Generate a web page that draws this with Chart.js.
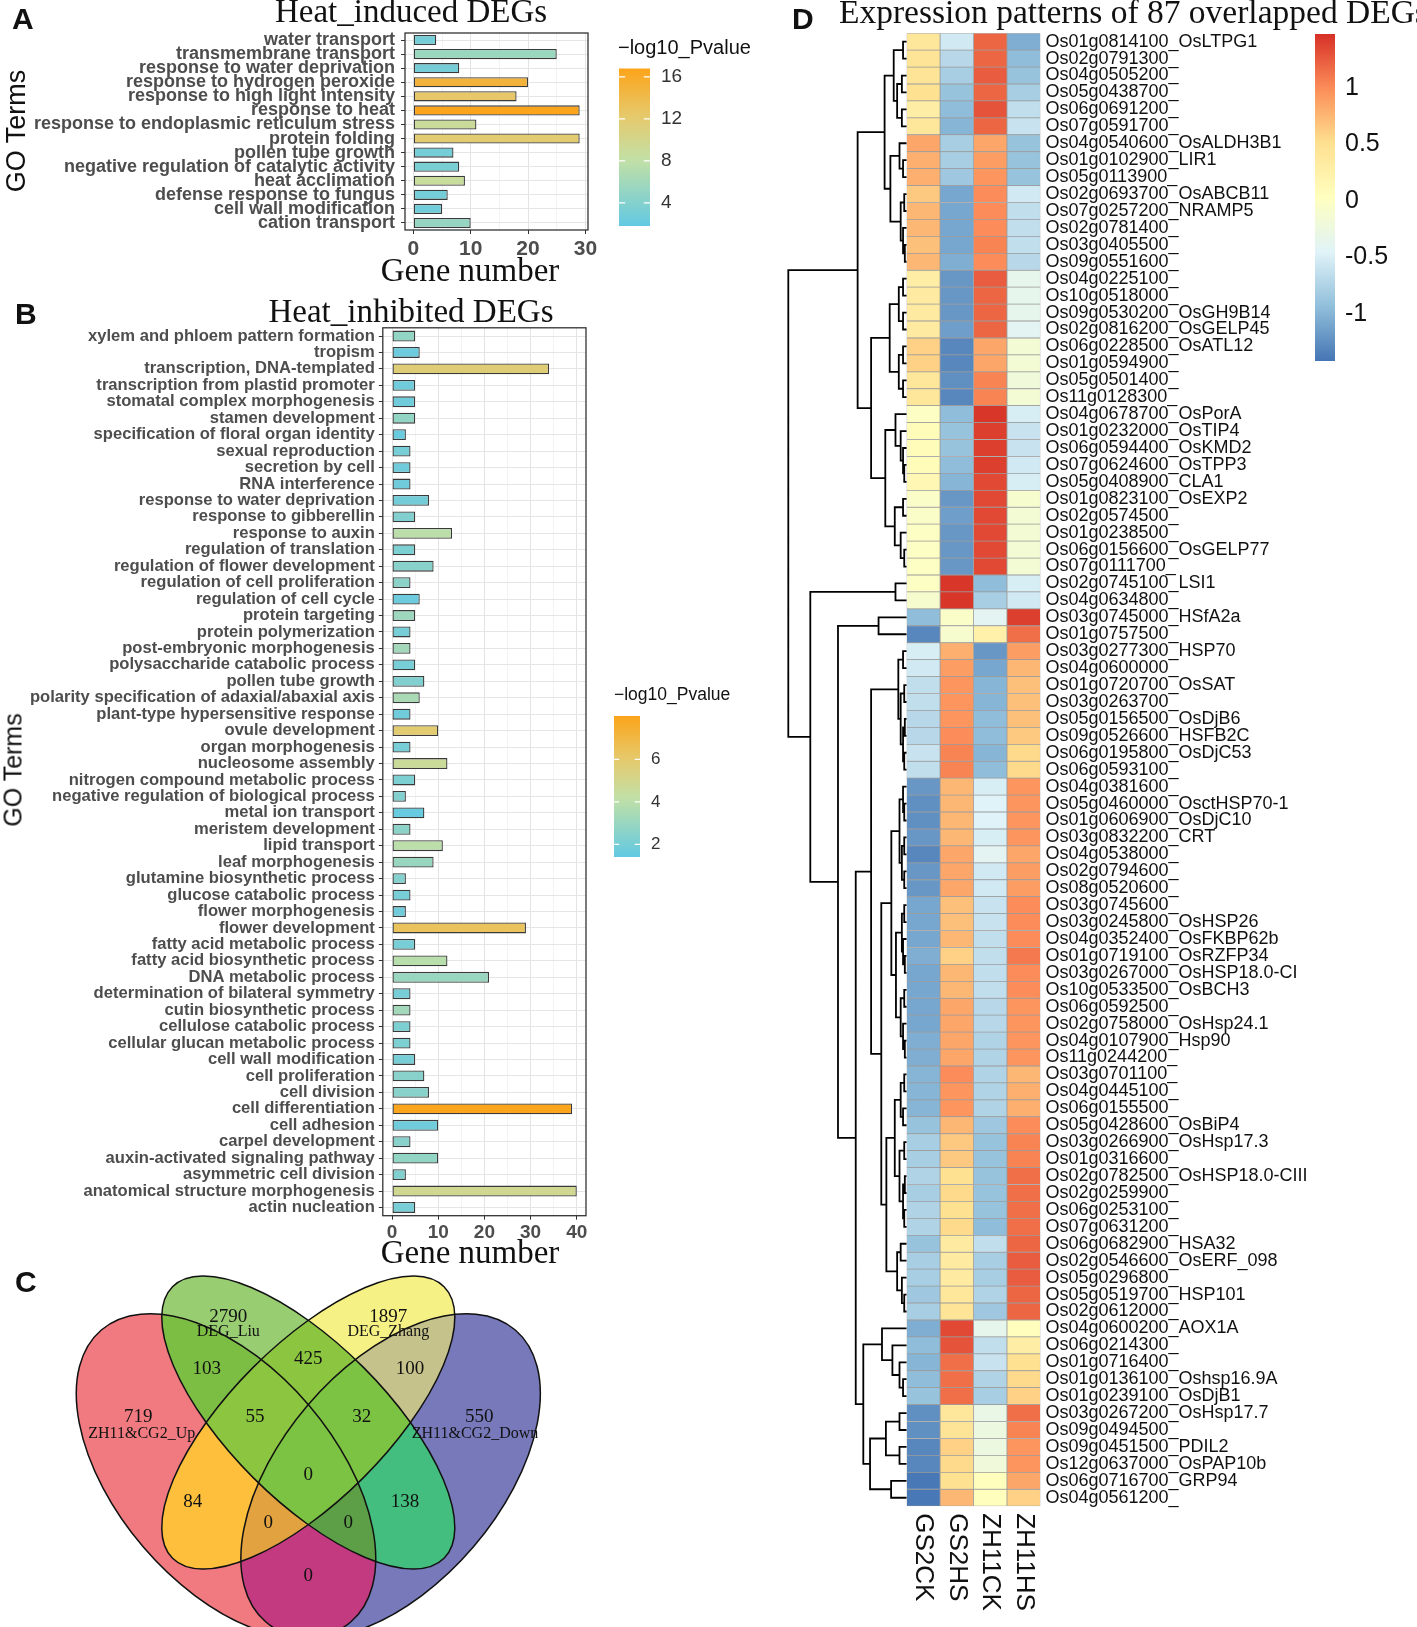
<!DOCTYPE html>
<html>
<head>
<meta charset="utf-8">
<script src="https://cdn.jsdelivr.net/npm/chart.js@4.4.1/dist/chart.umd.min.js"></script>
<style>
  body { margin: 0; background: #fff; }
  #page { position: relative; width: 1417px; height: 1627px; overflow: hidden; font-family: "Liberation Sans", Arial, sans-serif; }
  canvas { position: absolute; }
  .t { position: absolute; white-space: nowrap; line-height: 1; color: #111; }
  .serif { font-family: "Liberation Serif", "Times New Roman", serif; }
  .letter { font-weight: bold; font-size: 30px; }
  .rot { transform: translate(-50%, -50%) rotate(-90deg); }
  .mid { transform: translateX(-50%); }
</style>
</head>
<body>
<div id="page">
  <canvas id="cA" width="760" height="290" style="left:0;top:0"></canvas>
  <canvas id="cB" width="760" height="990" style="left:0;top:290px"></canvas>
  <canvas id="cC" width="560" height="407" style="left:0;top:1220px"></canvas>
  <canvas id="cT" width="130" height="1627" style="left:780px;top:0"></canvas>
  <canvas id="cD" width="517" height="1627" style="left:900px;top:0"></canvas>

  <div class="t letter" style="left:12px;top:4px">A</div>
  <div class="t serif mid" style="left:411px;top:-5px;font-size:33px">Heat_induced DEGs</div>
  <div class="t serif mid" style="left:470px;top:254px;font-size:33px">Gene number</div>
  <div class="t rot" style="left:16px;top:131px;font-size:27px">GO Terms</div>
  <div class="t" style="left:618px;top:37px;font-size:20px">−log10_Pvalue</div>

  <div class="t letter" style="left:15px;top:299px">B</div>
  <div class="t serif mid" style="left:411px;top:295px;font-size:33px">Heat_inhibited DEGs</div>
  <div class="t serif mid" style="left:470px;top:1236px;font-size:33px">Gene number</div>
  <div class="t rot" style="left:13px;top:770px;font-size:25px">GO Terms</div>
  <div class="t" style="left:614px;top:686px;font-size:17.5px">−log10_Pvalue</div>

  <div class="t letter" style="left:15px;top:1267px">C</div>

  <div class="t letter" style="left:792px;top:4px">D</div>
  <div class="t serif" style="left:839px;top:-5px;font-size:33.5px">Expression patterns of 87 overlapped DEGs</div>
</div>

<script>
// ---------- panel A: GO terms of heat induced DEGs ----------
const goInduced = ['water transport', 'transmembrane transport', 'response to water deprivation',
  'response to hydrogen peroxide', 'response to high light intensity', 'response to heat',
  'response to endoplasmic reticulum stress', 'protein folding', 'pollen tube growth',
  'negative regulation of catalytic activity', 'heat acclimation', 'defense response to fungus',
  'cell wall modification', 'cation transport'];
const genesInduced = [4, 25, 8, 20, 18, 29, 11, 29, 7, 8, 9, 6, 5, 10];
const pInduced = [3.0, 5.5, 3.0, 15.0, 12.5, 16.7, 9.0, 12.0, 3.0, 3.3, 8.8, 3.0, 2.8, 5.2];

// ---------- panel B: GO terms of heat inhibited DEGs ----------
const goInhibited = ['xylem and phloem pattern formation', 'tropism', 'transcription, DNA-templated',
  'transcription from plastid promoter', 'stomatal complex morphogenesis', 'stamen development',
  'specification of floral organ identity', 'sexual reproduction', 'secretion by cell', 'RNA interference',
  'response to water deprivation', 'response to gibberellin', 'response to auxin', 'regulation of translation',
  'regulation of flower development', 'regulation of cell proliferation', 'regulation of cell cycle',
  'protein targeting', 'protein polymerization', 'post-embryonic morphogenesis',
  'polysaccharide catabolic process', 'pollen tube growth', 'polarity specification of adaxial/abaxial axis',
  'plant-type hypersensitive response', 'ovule development', 'organ morphogenesis', 'nucleosome assembly',
  'nitrogen compound metabolic process', 'negative regulation of biological process', 'metal ion transport',
  'meristem development', 'lipid transport', 'leaf morphogenesis', 'glutamine biosynthetic process',
  'glucose catabolic process', 'flower morphogenesis', 'flower development', 'fatty acid metabolic process',
  'fatty acid biosynthetic process', 'DNA metabolic process', 'determination of bilateral symmetry',
  'cutin biosynthetic process', 'cellulose catabolic process', 'cellular glucan metabolic process',
  'cell wall modification', 'cell proliferation', 'cell division', 'cell differentiation', 'cell adhesion',
  'carpel development', 'auxin-activated signaling pathway', 'asymmetric cell division',
  'anatomical structure morphogenesis', 'actin nucleation'];
const genesInhibited = [5, 6, 34, 5, 5, 5, 3, 4, 4, 4, 8, 5, 13, 5, 9, 4, 6, 5, 4, 4, 5, 7, 6, 4, 10,
  4, 12, 5, 3, 7, 4, 11, 9, 3, 4, 3, 29, 5, 12, 21, 4, 4, 4, 4, 5, 7, 8, 39, 10, 4, 10, 3, 40, 5];
const pInhibited = [2.8, 1.7, 5.7, 1.8, 1.8, 2.8, 1.6, 2.0, 1.8, 1.8, 1.9, 2.3, 4.0, 2.2, 2.5, 2.6, 1.7, 3.1,
  2.0, 3.3, 2.0, 2.3, 3.5, 1.8, 5.9, 2.0, 4.6, 2.2, 2.3, 1.6, 2.6, 4.0, 3.0, 2.4, 2.0, 1.8, 6.4, 2.0, 3.9,
  3.0, 2.0, 3.3, 2.2, 2.2, 2.0, 2.5, 2.5, 8.0, 1.8, 2.5, 2.8, 2.3, 4.9, 2.0];

// ---------- panel C: Venn diagram ----------
const vennSets = ['ZH11&CG2_Up', 'DEG_Liu', 'DEG_Zhang', 'ZH11&CG2_Down'];
const vennRegions = ['A', 'B', 'C', 'D', 'AB', 'BC', 'CD', 'AC', 'BD', 'AD', 'ABC', 'BCD', 'ACD', 'ABD', 'ABCD'];
const vennCounts = [719, 2790, 1897, 550, 103, 425, 100, 84, 138, 0, 55, 32, 0, 0, 0];

// ---------- panel D: heatmap of 87 overlapped DEGs (row z-scores) ----------
const sampleLabels = ['GS2CK', 'GS2HS', 'ZH11CK', 'ZH11HS'];
const geneLabels = ['Os01g0814100_OsLTPG1', 'Os02g0791300_', 'Os04g0505200_', 'Os05g0438700_', 'Os06g0691200_',
  'Os07g0591700_', 'Os04g0540600_OsALDH3B1', 'Os01g0102900_LIR1', 'Os05g0113900_', 'Os02g0693700_OsABCB11',
  'Os07g0257200_NRAMP5', 'Os02g0781400_', 'Os03g0405500_', 'Os09g0551600_', 'Os04g0225100_', 'Os10g0518000_',
  'Os09g0530200_OsGH9B14', 'Os02g0816200_OsGELP45', 'Os06g0228500_OsATL12', 'Os01g0594900_', 'Os05g0501400_',
  'Os11g0128300_', 'Os04g0678700_OsPorA', 'Os01g0232000_OsTIP4', 'Os06g0594400_OsKMD2', 'Os07g0624600_OsTPP3',
  'Os05g0408900_CLA1', 'Os01g0823100_OsEXP2', 'Os02g0574500_', 'Os01g0238500_', 'Os06g0156600_OsGELP77',
  'Os07g0111700_', 'Os02g0745100_LSI1', 'Os04g0634800_', 'Os03g0745000_HSfA2a', 'Os01g0757500_',
  'Os03g0277300_HSP70', 'Os04g0600000_', 'Os01g0720700_OsSAT', 'Os03g0263700_', 'Os05g0156500_OsDjB6',
  'Os09g0526600_HSFB2C', 'Os06g0195800_OsDjC53', 'Os06g0593100_', 'Os04g0381600_', 'Os05g0460000_OsctHSP70-1',
  'Os01g0606900_OsDjC10', 'Os03g0832200_CRT', 'Os04g0538000_', 'Os02g0794600_', 'Os08g0520600_',
  'Os03g0745600_', 'Os03g0245800_OsHSP26', 'Os04g0352400_OsFKBP62b', 'Os01g0719100_OsRZFP34',
  'Os03g0267000_OsHSP18.0-CI', 'Os10g0533500_OsBCH3', 'Os06g0592500_', 'Os02g0758000_OsHsp24.1',
  'Os04g0107900_Hsp90', 'Os11g0244200_', 'Os03g0701100_', 'Os04g0445100_', 'Os06g0155500_',
  'Os05g0428600_OsBiP4', 'Os03g0266900_OsHsp17.3', 'Os01g0316600_', 'Os02g0782500_OsHSP18.0-CIII',
  'Os02g0259900_', 'Os06g0253100_', 'Os07g0631200_', 'Os06g0682900_HSA32', 'Os02g0546600_OsERF_098',
  'Os05g0296800_', 'Os05g0519700_HSP101', 'Os02g0612000_', 'Os04g0600200_AOX1A', 'Os06g0214300_',
  'Os01g0716400_', 'Os01g0136100_Oshsp16.9A', 'Os01g0239100_OsDjB1', 'Os03g0267200_OsHsp17.7',
  'Os09g0494500_', 'Os09g0451500_PDIL2', 'Os12g0637000_OsPAP10b', 'Os06g0716700_GRP94', 'Os04g0561200_'];
const zGS2CK = [0.4, 0.45, 0.45, 0.5, 0.3, 0.4, 0.85, 0.8, 0.8, 0.65, 0.75, 0.75, 0.7, 0.75, 0.3, 0.35, 0.35, 0.35,
  0.6, 0.6, 0.4, 0.4, 0.0, 0.1, 0.1, 0.1, 0.15, -0.05, -0.05, 0.0, 0.0, 0.0, 0.0, -0.1, -0.95, -1.3, -0.5, -0.55,
  -0.65, -0.65, -0.7, -0.7, -0.6, -0.65, -1.2, -1.25, -1.25, -1.2, -1.3, -1.2, -1.2, -1.1, -1.1, -1.1, -1.05, -1.1,
  -1.1, -1.1, -1.1, -1.05, -1.05, -1.0, -1.0, -1.0, -0.9, -0.8, -0.8, -0.75, -0.8, -0.75, -0.75, -0.9, -0.8, -0.8,
  -0.85, -0.8, -1.05, -0.95, -1.0, -0.95, -0.9, -1.25, -1.25, -1.3, -1.3, -1.4, -1.4];
const zGS2HS = [-0.55, -0.7, -0.8, -0.9, -0.95, -1.0, -0.8, -0.8, -0.85, -1.1, -1.1, -1.1, -1.1, -1.05, -1.2, -1.2,
  -1.2, -1.15, -1.3, -1.3, -1.25, -1.3, -0.95, -0.9, -0.9, -0.95, -1.0, -1.2, -1.15, -1.2, -1.2, -1.2, 1.45, 1.45,
  -0.05, -0.1, 0.8, 0.9, 0.95, 0.95, 0.95, 1.0, 1.05, 1.05, 0.75, 0.75, 0.75, 0.75, 0.85, 0.85, 0.85, 0.7, 0.7,
  0.75, 0.6, 0.75, 0.75, 0.85, 0.85, 0.85, 0.85, 1.0, 0.95, 0.95, 0.75, 0.65, 0.65, 0.5, 0.55, 0.5, 0.55, 0.35,
  0.35, 0.35, 0.4, 0.45, 1.35, 1.3, 1.15, 1.15, 1.15, 0.4, 0.45, 0.6, 0.55, 0.5, 0.75];
const zZH11CK = [1.2, 1.2, 1.25, 1.2, 1.3, 1.2, 0.85, 0.9, 0.95, 1.0, 1.0, 1.0, 1.05, 1.0, 1.25, 1.2, 1.2, 1.2, 0.85,
  0.85, 1.05, 1.05, 1.45, 1.4, 1.4, 1.4, 1.35, 1.35, 1.35, 1.35, 1.35, 1.35, -0.95, -0.8, -0.4, 0.25, -1.2, -1.1,
  -1.0, -1.0, -0.95, -0.95, -1.0, -0.95, -0.5, -0.45, -0.45, -0.5, -0.4, -0.55, -0.55, -0.6, -0.6, -0.65, -0.65,
  -0.65, -0.65, -0.7, -0.7, -0.75, -0.75, -0.75, -0.75, -0.75, -0.85, -0.9, -0.9, -0.9, -0.9, -0.9, -0.95, -0.65,
  -0.8, -0.8, -0.75, -0.85, -0.35, -0.65, -0.6, -0.75, -0.8, -0.3, -0.25, -0.25, -0.2, 0.05, 0.05];
const zZH11HS = [-1.05, -0.95, -0.9, -0.8, -0.65, -0.6, -0.9, -0.9, -0.9, -0.55, -0.65, -0.65, -0.65, -0.7, -0.35,
  -0.35, -0.35, -0.4, -0.15, -0.15, -0.2, -0.15, -0.5, -0.6, -0.6, -0.55, -0.5, -0.1, -0.15, -0.15, -0.15, -0.15,
  -0.5, -0.55, 1.4, 1.15, 0.9, 0.75, 0.7, 0.7, 0.7, 0.65, 0.55, 0.55, 0.95, 0.95, 0.95, 0.95, 0.85, 0.9, 0.9, 1.0,
  1.0, 1.0, 1.1, 1.0, 1.0, 0.95, 0.95, 0.95, 0.95, 0.75, 0.8, 0.8, 1.0, 1.05, 1.05, 1.15, 1.15, 1.15, 1.15, 1.2,
  1.25, 1.25, 1.2, 1.2, 0.05, 0.3, 0.5, 0.55, 0.6, 1.15, 1.05, 0.95, 0.95, 0.85, 0.6];
// row dendrogram: [merge height (root = 1), left, right]; numbers are row positions
const rowTree = [1.0,
  [0.414,
    [0.186,
      [0.109, [0.03, 1, 2], [0.08, [0.04, 3, 4], [0.04, 5, 6]]],
      [0.137, [0.06, 7, [0.03, 8, 9]], [0.05, [0.02, 10, 11], [0.03, 12, [0.015, 13, 14]]]]],
    [0.30,
      [0.143, [0.066, [0.03, 15, 16], [0.03, 17, 18]], [0.066, [0.03, 19, 20], [0.03, 21, 22]]],
      [0.18, [0.094, 23, [0.05, 24, [0.03, 25, [0.02, 26, 27]]]], [0.1, [0.03, 28, 29], [0.05, 30, [0.02, 31, 32]]]]]],
  [0.814,
    [0.094, 33, 34],
    [0.58,
      [0.237, 35, 36],
      [0.43,
        [0.3,
          [0.07, [0.03, 37, 38], [0.05, [0.02, 39, 40], [0.03, [0.015, 41, 42], [0.02, 43, 44]]]],
          [0.214,
            [0.129,
              [0.06, [0.03, 45, [0.02, 46, 47]], [0.04, [0.02, 48, 49], [0.02, 50, 51]]],
              [0.09, [0.04, [0.02, 52, 53], [0.03, 54, [0.015, 55, 56]]], [0.05, [0.02, 57, 58], [0.03, 59, [0.015, 60, 61]]]]],
            [0.171,
              [0.1, [0.05, [0.02, 62, 63], [0.03, 64, 65]], [0.06, [0.02, 66, 67], [0.03, [0.015, 68, 69], [0.02, 70, 71]]]],
              [0.08, [0.05, 72, 73], [0.04, 74, [0.02, 75, 76]]]]]],
        [0.366,
          [0.208, 77, [0.12, 78, [0.06, 79, [0.03, 80, 81]]]],
          [0.309, [0.175, [0.06, 82, 83], [0.06, 84, 85]], [0.131, 86, 87]]]]]]];

// ---------- colours ----------
const goStops = [[0, '#62c9e3'], [0.42, '#c2e0a6'], [0.7, '#e6c96b'], [1, '#fca41a']];
const heatStops = ['#4575b4', '#91bfdb', '#e0f3f8', '#ffffbf', '#fee090', '#fc8d59', '#d73027']
  .map((c, i, a) => [i / (a.length - 1), c]);
const heatRange = [-1.42, 1.48];

function hexRgb(h) { return [1, 3, 5].map(i => parseInt(h.slice(i, i + 2), 16)); }
function ramp(stops, t) {
  t = Math.max(0, Math.min(1, t));
  for (let i = 1; i < stops.length; i++) {
    if (t <= stops[i][0]) {
      const f = (t - stops[i - 1][0]) / (stops[i][0] - stops[i - 1][0]);
      const a = hexRgb(stops[i - 1][1]), b = hexRgb(stops[i][1]);
      return 'rgb(' + a.map((v, k) => Math.round(v + (b[k] - v) * f)).join(',') + ')';
    }
  }
  return stops[stops.length - 1][1];
}
const heatColor = v => ramp(heatStops, (v - heatRange[0]) / (heatRange[1] - heatRange[0]));

Chart.defaults.font.family = '"Liberation Sans", Arial, sans-serif';
Chart.defaults.animation = false;
Chart.defaults.plugins.legend.display = false;
Chart.defaults.plugins.tooltip.enabled = false;

const panelBox = {
  id: 'panelBox',
  afterDraw(chart) {
    const a = chart.chartArea, ctx = chart.ctx;
    ctx.save();
    ctx.strokeStyle = '#333';
    ctx.lineWidth = 1.3;
    ctx.strokeRect(a.left, a.top, a.right - a.left, a.bottom - a.top);
    ctx.restore();
  }
};

function colorbar(o) {
  return {
    id: 'colorbar',
    afterDraw(chart) {
      const ctx = chart.ctx, h = o.y1 - o.y0;
      const g = ctx.createLinearGradient(0, o.y1, 0, o.y0);
      goStops.forEach(s => g.addColorStop(s[0], s[1]));
      ctx.save();
      ctx.fillStyle = g;
      ctx.fillRect(o.x, o.y0, o.w, h);
      ctx.strokeStyle = '#fff';
      ctx.lineWidth = 1.3;
      ctx.fillStyle = '#333';
      ctx.font = o.font;
      ctx.textBaseline = 'middle';
      o.ticks.forEach(v => {
        const y = o.y1 - (v - o.lo) / (o.hi - o.lo) * h;
        ctx.beginPath();
        ctx.moveTo(o.x, y); ctx.lineTo(o.x + o.w * 0.2, y);
        ctx.moveTo(o.x + o.w * 0.8, y); ctx.lineTo(o.x + o.w, y);
        ctx.stroke();
        ctx.fillText(String(v), o.x + o.w + 11, y);
      });
      ctx.restore();
    }
  };
}

function goChart(id, terms, genes, pvals, cfg) {
  return new Chart(document.getElementById(id), {
    type: 'bar',
    data: {
      labels: terms,
      datasets: [{
        data: genes,
        backgroundColor: pvals.map(v => ramp(goStops, (v - cfg.lo) / (cfg.hi - cfg.lo))),
        borderColor: '#3a3a3a',
        borderWidth: 1.3,
        borderSkipped: false,
        barPercentage: cfg.barPct,
        categoryPercentage: 1
      }]
    },
    options: {
      indexAxis: 'y',
      responsive: false,
      layout: { padding: cfg.padding },
      scales: {
        x: {
          type: 'linear', min: cfg.xmin, max: cfg.xmax,
          afterBuildTicks: s => { s.ticks = cfg.xticks.map(v => ({ value: v })); },
          afterFit: s => { s.height = 40; },
          ticks: {
            autoSkip: false, maxRotation: 0, padding: cfg.xpad, color: '#4d4d4d',
            font: { size: cfg.xfont, weight: 'bold' },
            callback: v => (v % 10 ? '' : v)
          },
          grid: {
            color: c => (c.tick && c.tick.value % 10 ? '#f3f3f3' : '#e4e4e4'),
            tickColor: c => (c.tick && c.tick.value % 10 ? 'rgba(0,0,0,0)' : '#333'),
            tickLength: 4
          },
          border: { display: false }
        },
        y: {
          afterFit: s => { s.width = cfg.ywidth; },
          ticks: { autoSkip: false, padding: cfg.ypad, color: '#4d4d4d', font: { size: cfg.yfont, weight: 'bold' } },
          grid: { offset: false, color: '#e6e6e6', tickColor: '#333', tickLength: 4 },
          border: { display: false }
        }
      }
    },
    plugins: [panelBox, colorbar(cfg.bar)]
  });
}

goChart('cA', goInduced, genesInduced, pInduced, {
  lo: 1.8, hi: 16.8, xmin: -1.45, xmax: 30.45, xticks: [0, 5, 10, 15, 20, 25, 30], barPct: 0.72,
  padding: { top: 33, right: 172, bottom: 20, left: 0 }, ywidth: 405, yfont: 18, ypad: 6, xfont: 21, xpad: 3,
  bar: { x: 619, y0: 68.5, y1: 226, w: 31, lo: 1.8, hi: 16.8, ticks: [4, 8, 12, 16], font: '19px "Liberation Sans", Arial' }
});

goChart('cB', goInhibited, genesInhibited, pInhibited, {
  lo: 1.4, hi: 8.05, xmin: -2, xmax: 42, xticks: [0, 5, 10, 15, 20, 25, 30, 35, 40], barPct: 0.66,
  padding: { top: 37.8, right: 174, bottom: 24.3, left: 0 }, ywidth: 382.8, yfont: 16.6, ypad: 4, xfont: 19, xpad: 2,
  bar: { x: 614, y0: 426, y1: 567, w: 26, lo: 1.4, hi: 8.05, ticks: [2, 4, 6], font: '17px "Liberation Sans", Arial' }
});

// ---------- Venn ----------
const vennShapes = [ // layout of the four ellipses, page pixels
  { cx: 226, cy: 1476, a: 192, b: 109, rot: 49.5 },
  { cx: 308.3, cy: 1422.5, a: 192, b: 78, rot: 45 },
  { cx: 308.3, cy: 1422.5, a: 192, b: 78, rot: 135 },
  { cx: 390.6, cy: 1476, a: 192, b: 109, rot: 130.5 }
];
const vennFill = { A: '#f07a80', B: '#98cd72', C: '#f6f184', D: '#7779bb', AB: '#7cbd44', BC: '#8cc53f',
  CD: '#c6c28b', AC: '#fdbf3c', BD: '#43be7e', AD: '#c43a80', ABC: '#8cc53f', BCD: '#7cc243',
  ACD: '#e2a23f', ABD: '#5c9f47', ABCD: '#7cc243' };
const vennCountPos = { A: [138.3, 1416.7], B: [228.3, 1316.7], C: [388.3, 1316.7], D: [479.3, 1416.7],
  AB: [206.7, 1369.3], BC: [308.3, 1359.3], CD: [410, 1369.3], AC: [192.7, 1501.7], BD: [405, 1501.7],
  AD: [308.3, 1576], ABC: [255, 1416.7], BCD: [361.7, 1416.7], ACD: [268.3, 1523.3], ABD: [348.3, 1523.3],
  ABCD: [308.3, 1475] };
const vennNamePos = [[141.7, 1433.3], [228.3, 1331.7], [388.3, 1331.7], [475, 1433.3]];

const vennPlugin = {
  id: 'venn',
  beforeDatasetsDraw(chart) {
    const ctx = chart.ctx, sx = chart.scales.x, sy = chart.scales.y;
    const W = chart.width, H = chart.height;
    const ell = (e, fresh) => {
      const x = sx.getPixelForValue(e.cx), y = sy.getPixelForValue(e.cy);
      const a = Math.abs(sx.getPixelForValue(e.cx + e.a) - x), b = Math.abs(sx.getPixelForValue(e.cx + e.b) - x);
      const r = e.rot * Math.PI / 180;
      if (fresh) ctx.beginPath();
      ctx.moveTo(x + a * Math.cos(r), y + a * Math.sin(r));
      ctx.ellipse(x, y, a, b, r, 0, 2 * Math.PI);
    };
    vennRegions.forEach(reg => {
      ctx.save();
      'ABCD'.split('').forEach((s, i) => {
        if (reg.includes(s)) { ell(vennShapes[i], true); ctx.clip(); }
        else { ctx.beginPath(); ctx.rect(0, 0, W, H); ell(vennShapes[i], false); ctx.clip('evenodd'); }
      });
      ctx.fillStyle = vennFill[reg];
      ctx.fillRect(0, 0, W, H);
      ctx.restore();
    });
    ctx.save();
    ctx.strokeStyle = '#111';
    ctx.lineWidth = 1.5;
    vennShapes.forEach(e => { ell(e, true); ctx.stroke(); });
    ctx.fillStyle = '#111';
    ctx.textAlign = 'center';
    ctx.textBaseline = 'middle';
    ctx.font = '19px "Liberation Serif", "Times New Roman", serif';
    vennRegions.forEach((reg, i) => {
      const p = vennCountPos[reg];
      ctx.fillText(String(vennCounts[i]), sx.getPixelForValue(p[0]), sy.getPixelForValue(p[1]));
    });
    ctx.font = '16px "Liberation Serif", "Times New Roman", serif';
    vennSets.forEach((n, i) => {
      const p = vennNamePos[i];
      ctx.fillText(n, sx.getPixelForValue(p[0]), sy.getPixelForValue(p[1]));
    });
    ctx.restore();
  }
};

new Chart(document.getElementById('cC'), {
  type: 'scatter',
  data: { datasets: [{ data: [], pointRadius: 0 }] },
  options: {
    responsive: false,
    layout: { padding: 0 },
    scales: {
      x: { type: 'linear', min: 0, max: 560, display: false },
      y: { type: 'linear', min: 1220, max: 1627, reverse: true, display: false }
    }
  },
  plugins: [vennPlugin]
});

// ---------- dendrogram ----------
const treePts = [];
function walk(node) {
  if (typeof node === 'number') return { y: node, h: 0 };
  const l = walk(node[1]), r = walk(node[2]);
  treePts.push({ x: l.h, y: l.y }, { x: node[0], y: l.y }, { x: node[0], y: r.y }, { x: r.h, y: r.y }, { x: null, y: null });
  return { y: (l.y + r.y) / 2, h: node[0] };
}
walk(rowTree);

new Chart(document.getElementById('cT'), {
  type: 'scatter',
  data: { datasets: [{ data: treePts, showLine: true, spanGaps: false, borderColor: '#000', borderWidth: 1.8, pointRadius: 0, clip: false }] },
  options: {
    responsive: false,
    layout: { padding: { left: 8.3, right: 3.4, top: 33.2, bottom: 120.8 } },
    scales: {
      x: { type: 'linear', min: 0, max: 1, reverse: true, display: false },
      y: { type: 'linear', min: 0.5, max: 87.5, reverse: true, display: false }
    }
  }
});

// ---------- heatmap ----------
const zCols = [zGS2CK, zGS2HS, zZH11CK, zZH11HS];
const heatExtras = {
  id: 'heatExtras',
  afterDraw(chart) {
    const ctx = chart.ctx, sx = chart.scales.x, a = chart.chartArea;
    ctx.save();
    ctx.fillStyle = '#111';
    ctx.font = '26px "Liberation Sans", Arial, sans-serif';
    ctx.textAlign = 'left';
    ctx.textBaseline = 'middle';
    sampleLabels.forEach((s, c) => {
      ctx.save();
      ctx.translate(sx.getPixelForValue(c + 0.5), a.bottom + 7);
      ctx.rotate(Math.PI / 2);
      ctx.fillText(s, 0, 0);
      ctx.restore();
    });
    // colour key
    const x = 415, w = 20, y0 = 34, y1 = 361;
    const g = ctx.createLinearGradient(0, y1, 0, y0);
    heatStops.forEach(s => g.addColorStop(s[0], s[1]));
    ctx.fillStyle = g;
    ctx.fillRect(x, y0, w, y1 - y0);
    ctx.fillStyle = '#111';
    ctx.font = '25px "Liberation Sans", Arial, sans-serif';
    [1, 0.5, 0, -0.5, -1].forEach(v => {
      const y = y1 - (v - heatRange[0]) / (heatRange[1] - heatRange[0]) * (y1 - y0);
      ctx.fillText(String(v), x + w + 10, y);
    });
    ctx.restore();
  }
};

new Chart(document.getElementById('cD'), {
  type: 'bar',
  data: {
    labels: geneLabels,
    datasets: zCols.map((z, c) => ({
      label: sampleLabels[c],
      data: z.map(() => [c, c + 1]),
      backgroundColor: z.map(heatColor),
      borderColor: '#9c9c9c',
      borderWidth: 0.75,
      borderSkipped: false,
      barPercentage: 1,
      categoryPercentage: 1,
      grouped: false
    }))
  },
  options: {
    indexAxis: 'y',
    responsive: false,
    layout: { padding: { left: 6.6, right: 0, top: 33.2, bottom: 120.8 } },
    scales: {
      x: { type: 'linear', min: 0, max: 4, display: false },
      y: {
        position: 'right',
        afterFit: s => { s.width = 376.6; },
        ticks: { autoSkip: false, padding: 5, color: '#111', font: { size: 18 } },
        grid: { display: false, drawTicks: false },
        border: { display: false }
      }
    }
  },
  plugins: [heatExtras]
});
</script>
</body>
</html>
